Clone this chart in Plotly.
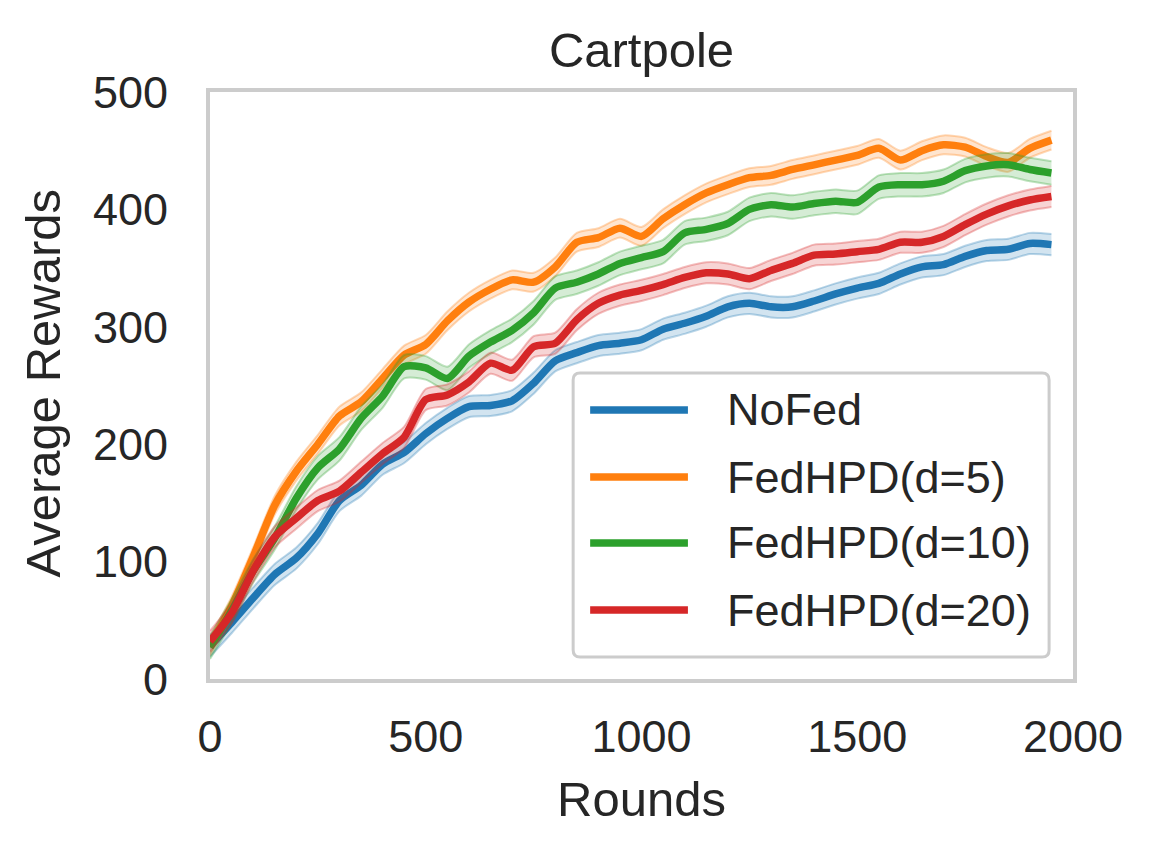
import plotly.graph_objects as go

# ---- data ----
rounds = [0, 50, 100, 150, 200, 250, 300, 350, 400, 450,
          500, 550, 600, 650, 700, 750, 800, 850, 900, 950,
          1000, 1050, 1100, 1150, 1200, 1250, 1300, 1350, 1400, 1450,
          1500, 1550, 1600, 1650, 1700, 1750, 1800, 1850, 1900, 1950]

series_names = ["NoFed", "FedHPD(d=5)", "FedHPD(d=10)", "FedHPD(d=20)"]

nofed = [28, 48, 69, 89, 103, 124, 152, 165, 183, 193,
         209, 222, 232, 233, 237, 252, 271, 278, 284, 286,
         289, 298, 303, 309, 317, 320, 317, 317, 322, 328,
         333, 337, 345, 351, 353, 360, 365, 366, 371, 370]

fedhpd_d5 = [28, 62, 104, 148, 177, 200, 224, 236, 256, 276,
             285, 305, 321, 332, 340, 338, 351, 372, 376, 384,
             377, 392, 404, 414, 421, 427, 429, 434, 438, 442,
             446, 452, 442, 450, 455, 453, 445, 440, 452, 459]

fedhpd_d10 = [27, 58, 92, 120, 154, 180, 196, 222, 241, 266,
              265, 256, 275, 287, 297, 312, 333, 338, 345, 354,
              359, 364, 380, 383, 388, 400, 404, 402, 405, 407,
              406, 419, 421, 421, 424, 433, 437, 438, 434, 431]

fedhpd_d20 = [32, 56, 92, 121, 137, 152, 160, 176, 192, 206,
              238, 242, 253, 269, 263, 283, 286, 306, 320, 327,
              331, 336, 342, 346, 345, 341, 348, 354, 361, 362,
              364, 366, 372, 372, 377, 387, 396, 403, 408, 411]

ci_half_width = [9, 8, 10, 9]

x_ticks = [0, 500, 1000, 1500, 2000]
y_ticks = [0, 100, 200, 300, 400, 500]

# ---- styling ----
colors = ["#1f77b4", "#ff7f0e", "#2ca02c", "#d62728"]
FONT = "Liberation Sans, Arial, Helvetica, sans-serif"
TXT = "#262626"
GRID = "#cccccc"


def rgba(hex_color, a):
    h = hex_color.lstrip("#")
    r, g, b = int(h[0:2], 16), int(h[2:4], 16), int(h[4:6], 16)
    return f"rgba({r},{g},{b},{a})"


all_series = [nofed, fedhpd_d5, fedhpd_d10, fedhpd_d20]

fig = go.Figure()
for name, vals, half, col in zip(series_names, all_series, ci_half_width, colors):
    lower = [v - half for v in vals]
    upper = [v + half for v in vals]
    fig.add_trace(go.Scatter(x=rounds, y=lower, mode="lines",
                             line=dict(color=rgba(col, 0.3), width=2, shape="spline", smoothing=0.7),
                             showlegend=False, hoverinfo="skip"))
    fig.add_trace(go.Scatter(x=rounds, y=upper, mode="lines", fill="tonexty",
                             fillcolor=rgba(col, 0.2),
                             line=dict(color=rgba(col, 0.3), width=2, shape="spline", smoothing=0.7),
                             showlegend=False, hoverinfo="skip"))
    fig.add_trace(go.Scatter(x=rounds, y=vals, mode="lines", name=name,
                             line=dict(color=col, width=7.5, shape="spline", smoothing=0.7),
                             showlegend=False))

# ---- custom legend (matplotlib-like) ----
x0, x1, y0, y1 = 0.4208, 0.9723, 0.0375, 0.5213
rx, ry = 0.008, 0.012
path = (f"M {x0+rx},{y0} L {x1-rx},{y0} Q {x1},{y0} {x1},{y0+ry} "
        f"L {x1},{y1-ry} Q {x1},{y1} {x1-rx},{y1} L {x0+rx},{y1} "
        f"Q {x0},{y1} {x0},{y1-ry} L {x0},{y0+ry} Q {x0},{y0} {x0+rx},{y0} Z")
shapes = [dict(type="path", xref="paper", yref="paper", path=path,
               fillcolor="rgba(255,255,255,0.8)", line=dict(color=GRID, width=3), layer="above")]
annotations = []
entry_y = [0.4583, 0.3441, 0.2317, 0.1175]
for name, col, ey in zip(series_names, colors, entry_y):
    shapes.append(dict(type="line", xref="paper", yref="paper",
                       x0=0.4405, x1=0.5538, y0=ey, y1=ey,
                       line=dict(color=col, width=7.5), layer="above"))
    annotations.append(dict(xref="paper", yref="paper", x=0.5965, y=ey,
                            text=name, showarrow=False, xanchor="left", yanchor="middle",
                            font=dict(family=FONT, size=45, color=TXT)))

# axis titles
annotations.append(dict(xref="paper", yref="paper", x=0.5, y=-0.205, text="Rounds",
                        showarrow=False, xanchor="center", yanchor="middle",
                        font=dict(family=FONT, size=49, color=TXT)))
annotations.append(dict(xref="paper", yref="paper", x=-0.193, y=0.504, text="Average Rewards",
                        showarrow=False, xanchor="center", yanchor="middle", textangle=-90,
                        font=dict(family=FONT, size=49, color=TXT)))

fig.update_layout(
    width=1153, height=854,
    margin=dict(l=202, r=88, t=84, b=183),
    paper_bgcolor="white", plot_bgcolor="white",
    showlegend=False,
    title=dict(text="Cartpole", x=0.5, xref="paper", xanchor="center",
               y=1 - 42 / 854, yref="container", yanchor="middle",
               font=dict(family=FONT, size=49, color=TXT)),
    shapes=shapes, annotations=annotations,
    xaxis=dict(range=[0, 2000], tickvals=x_ticks, ticktext=[str(t) for t in x_ticks],
               showgrid=False, zeroline=False, showline=True, linecolor=GRID, linewidth=4,
               mirror=True, ticks="outside", ticklen=15, tickcolor="rgba(0,0,0,0)",
               tickfont=dict(family=FONT, size=45, color=TXT)),
    yaxis=dict(range=[0, 500], tickvals=y_ticks, ticktext=[str(t) for t in y_ticks],
               showgrid=False, zeroline=False, showline=True, linecolor=GRID, linewidth=4,
               mirror=True, ticks="outside", ticklen=29, tickcolor="rgba(0,0,0,0)",
               tickfont=dict(family=FONT, size=45, color=TXT)),
)

fig.write_html("out.html")
